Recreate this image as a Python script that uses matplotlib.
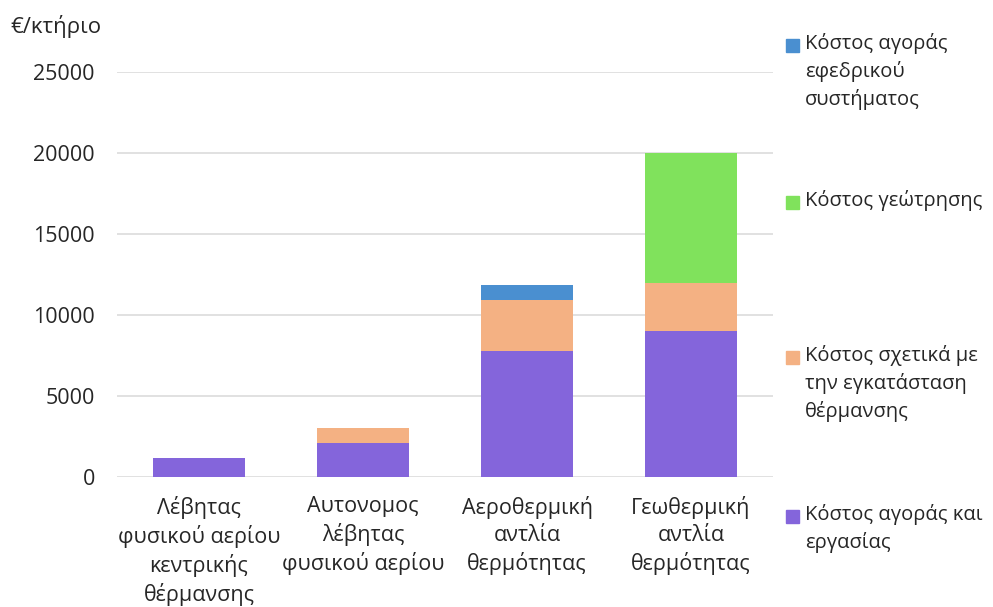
import matplotlib
matplotlib.use("Agg")
import matplotlib.pyplot as plt
from matplotlib.patches import Rectangle
import numpy as np

plt.rcParams['font.family'] = ['Open Sans', 'DejaVu Sans']

categories = ["Λέβητας\nφυσικού αερίου\nκεντρικής\nθέρμανσης",
              "Αυτονομος\nλέβητας\nφυσικού αερίου",
              "Αεροθερμική\nαντλία\nθερμότητας",
              "Γεωθερμική\nαντλία\nθερμότητας"]

# stacked from bottom to top
purchase_work = [1200, 2100, 7800, 9000]
installation = [0, 900, 3100, 3000]
backup_system = [0, 0, 950, 0]
drilling = [0, 0, 0, 8000]

series = [
    (purchase_work, "Κόστος αγοράς και\nεργασίας", "#8465db"),
    (installation, "Κόστος σχετικά με\nτην εγκατάσταση\nθέρμανσης", "#f4b183"),
    (drilling, "Κόστος γεώτρησης", "#80e25c"),
    (backup_system, "Κόστος αγοράς\nεφεδρικού\nσυστήματος", "#4a8fd0"),
]

FS = 15.5
TXT = "#262626"

fig = plt.figure(figsize=(9.93, 6.07), dpi=100)
ax = fig.add_axes([0.1178, 0.2142, 0.6607, 0.6672])

x = np.arange(len(categories))
bottom = np.zeros(len(categories))
for vals, label, color in series:
    vals = np.array(vals, dtype=float)
    ax.bar(x, vals, width=0.56, bottom=bottom, color=color, label=label, zorder=3)
    bottom += vals

ax.set_xlim(-0.5, 3.5)
ax.set_ylim(0, 25000)
ax.set_yticks(range(0, 25001, 5000))
ax.set_xticks(x)
ax.set_xticklabels(categories, fontsize=FS, color=TXT, linespacing=1.33)
ax.tick_params(axis='x', length=0, pad=14)
ax.tick_params(axis='y', length=0, pad=16, labelsize=FS, labelcolor=TXT)
ax.grid(axis='y', color="#d9d9d9", linewidth=1.1, zorder=0)
for s in ax.spines.values():
    s.set_visible(False)

fig.text(0.010, 1 - 26 / 607, "€/κτήριο", fontsize=16, color=TXT, va='center', ha='left')

# legend, entries spread evenly down the right side
legend_top = [45, 202, 357, 516]
for (vals, label, color), ytop in zip(series[::-1], legend_top):
    yf = 1 - ytop / 607
    fig.patches.append(Rectangle((786 / 993, yf - 6.5 / 607), 13 / 993, 13 / 607,
                                 transform=fig.transFigure, color=color))
    fig.text(805 / 993, yf + 12 / 607, label, fontsize=14.5, color=TXT,
             va='top', ha='left', linespacing=1.45)

fig.savefig("out.png", dpi=100)
